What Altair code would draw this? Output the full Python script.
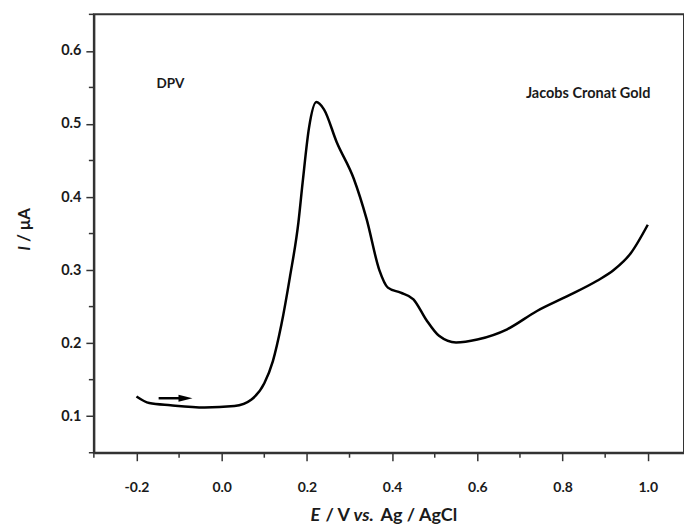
import altair as alt
import pandas as pd

# Curve
E = [-0.20, -0.17, -0.12, -0.04, 0.03, 0.07, 0.10, 0.12, 0.14, 0.16, 0.18, 0.19,
     0.205, 0.222, 0.24, 0.27, 0.31, 0.34, 0.37, 0.39, 0.42, 0.45, 0.48, 0.51,
     0.55, 0.60, 0.67, 0.74, 0.81, 0.88, 0.92, 0.96, 1.00]
I = [0.127, 0.118, 0.115, 0.112, 0.114, 0.123, 0.145, 0.175, 0.225, 0.290, 0.365, 0.420,
     0.495, 0.530, 0.520, 0.475, 0.425, 0.370, 0.300, 0.276, 0.269, 0.260, 0.232, 0.210,
     0.201, 0.205, 0.219, 0.244, 0.264, 0.285, 0.300, 0.323, 0.362]

# labelled (major) and unlabelled (minor) ticks
x_major = [-0.2, 0.0, 0.2, 0.4, 0.6, 0.8, 1.0]
x_minor = [-0.3, -0.1, 0.1, 0.3, 0.5, 0.7, 0.9]
y_major = [0.1, 0.2, 0.3, 0.4, 0.5, 0.6]
y_minor = [0.05, 0.15, 0.25, 0.35, 0.45, 0.55, 0.65]

x_domain = [-0.3, 1.085]
y_domain = [0.05, 0.65]

arrow_x = [-0.148, -0.09]
arrow_y = [0.1246, 0.1246]
arrow_head = {"x": -0.085, "y": 0.1246}

labels = [
    {"x": -0.153, "y": 0.554, "t": "DPV", "s": 13.5},
    {"x": 0.714, "y": 0.541, "t": "Jacobs Cronat Gold", "s": 14.5},
]

FONT = "Lato"
TXT = "#1a1a1a"
AX = "#333333"
W, H = 591, 439
L, T = 94, 14

df = pd.DataFrame({"E": E, "I": I})
xs = alt.Scale(domain=x_domain, nice=False, zero=False)
ys = alt.Scale(domain=y_domain, nice=False, zero=False)

xaxis = alt.Axis(
    values=x_major, title=None, grid=False, labelOverlap=False, labelFlush=False,
    labelExpr="replace(format(datum.value, '.1f'), '\u2212', '-')",
    tickSize=8, labelFont=FONT, labelFontWeight="bold", labelFontSize=14, labelColor=TXT,
    labelPadding=20, domainColor=AX, domainWidth=2, tickColor=AX, tickWidth=1.5,
)
yaxis = alt.Axis(
    values=y_major, title=None, grid=False, labelOverlap=False, labelFlush=False,
    format=".1f", tickSize=8,
    labelFont=FONT, labelFontWeight="bold", labelFontSize=14.5, labelColor=TXT,
    labelPadding=5, domainColor=AX, domainWidth=2, tickColor=AX, tickWidth=1.5,
)

curve = alt.Chart(df).mark_line(color="black", strokeWidth=2.5, interpolate="monotone").encode(
    x=alt.X("E:Q", scale=xs, axis=xaxis),
    y=alt.Y("I:Q", scale=ys, axis=yaxis),
)

xminor = alt.Chart(pd.DataFrame({"v": x_minor})).mark_rule(color=AX, strokeWidth=1.5).encode(
    x=alt.X("v:Q", scale=xs), y=alt.value(H), y2=alt.value(H + 5)
)
yminor = alt.Chart(pd.DataFrame({"w": y_minor})).mark_rule(color=AX, strokeWidth=1.5).encode(
    y=alt.Y("w:Q", scale=ys), x=alt.value(-5), x2=alt.value(0)
)

arrow_df = pd.DataFrame({"x": arrow_x, "y": arrow_y})
shaft = alt.Chart(arrow_df).mark_line(color="black", strokeWidth=2.5).encode(
    x=alt.X("x:Q", scale=xs), y=alt.Y("y:Q", scale=ys)
)
head = alt.Chart(pd.DataFrame([arrow_head])).mark_point(
    shape="M-1,-0.5L1,0L-1,0.5Z", filled=True, color="black", size=196, opacity=1
).encode(x=alt.X("x:Q", scale=xs), y=alt.Y("y:Q", scale=ys))

notes = alt.Chart(pd.DataFrame(labels)).mark_text(
    font=FONT, fontWeight="bold", color=TXT, align="left", baseline="middle"
).encode(
    x=alt.X("x:Q", scale=xs), y=alt.Y("y:Q", scale=ys),
    text="t:N", size=alt.Size("s:Q", scale=None, legend=None),
)

one = alt.Data(values=[{}])
def piece(txt, x, y, italic=False, angle=0, align="left", size=18):
    kw = dict(text=txt, font=FONT, fontWeight="bold", fontSize=size, color=TXT,
              align=align, baseline="middle")
    if italic:
        kw["fontStyle"] = "italic"
    if angle:
        kw["angle"] = angle
    return alt.Chart(one).mark_text(**kw).encode(x=alt.value(x), y=alt.value(y))

# x title: "E / V vs. Ag / AgCl"
xt = [
    piece("E", 311 - L, 516 - T, italic=True),
    piece("/ V", 326 - L, 516 - T),
    piece("vs.", 354 - L, 516 - T, italic=True),
    piece("Ag / AgCl", 381 - L, 516 - T),
]
# y title: "I / µA" rotated
yt = [
    piece("I", 25 - L, 246 - T, italic=True, angle=270, align="right", size=17),
    piece("/ \u03bcA", 25 - L, 242 - T, angle=270, align="left", size=17),
]

chart = alt.layer(curve, shaft, head, xminor, yminor, notes, *xt, *yt).properties(
    width=W, height=H,
    autosize=alt.AutoSizeParams(type="none"),
    padding={"left": L, "top": T, "right": 0, "bottom": 527 - T - H},
    background="white",
).configure_view(stroke=AX, strokeWidth=2)

chart.save("out.html", embed_options={"renderer": "svg", "actions": False})
